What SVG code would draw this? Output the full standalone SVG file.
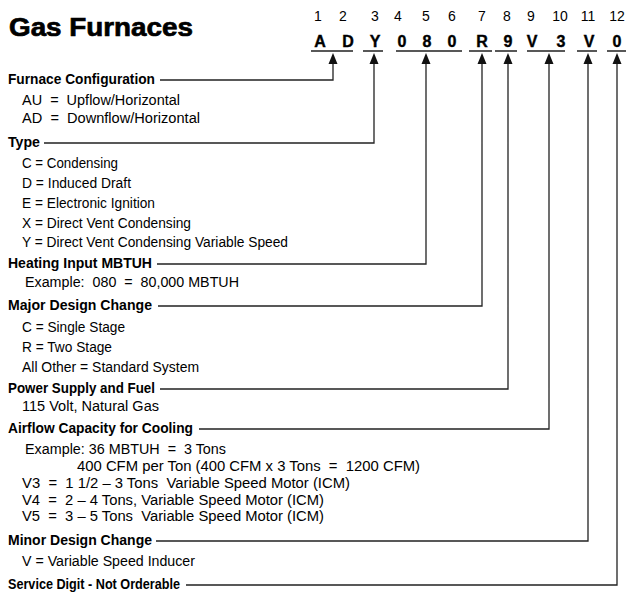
<svg xmlns="http://www.w3.org/2000/svg" width="626" height="595" viewBox="0 0 626 595">
<style>
text{font-family:"Liberation Sans",Arial,sans-serif;fill:#000;white-space:pre}
.t{font-size:26px;font-weight:bold;stroke:#000;stroke-width:0.7}
.h{font-size:15.5px;font-weight:bold}
.i{font-size:14px}
.n{font-size:15.5px}
.d{font-size:14px;text-anchor:middle}
.c{font-size:16px;font-weight:bold;text-anchor:middle;stroke:#000;stroke-width:0.4}
.ln{stroke:#222;stroke-width:1.3;fill:none}
.ah{fill:#111}
</style>
<defs>
<path id="arr" d="M0,0 L4.5,11 L-4.5,11 Z"/>
</defs>
<rect width="626" height="595" fill="#fff"/>
<g id="title"><text class="t" x="9" y="36" textLength="184" lengthAdjust="spacingAndGlyphs">Gas Furnaces</text></g>
<g id="code">
<text class="d" x="318" y="21">1</text><text class="d" x="343" y="21">2</text><text class="d" x="375" y="21">3</text><text class="d" x="398" y="21">4</text><text class="d" x="426" y="21">5</text><text class="d" x="452" y="21">6</text><text class="d" x="482" y="21">7</text><text class="d" x="507" y="21">8</text><text class="d" x="531" y="21">9</text><text class="d" x="560" y="21">10</text><text class="d" x="588" y="21">11</text><text class="d" x="617" y="21">12</text>
<text class="c" x="320" y="47">A</text><text class="c" x="348" y="47">D</text><text class="c" x="375" y="47">Y</text><text class="c" x="402" y="47">0</text><text class="c" x="427" y="47">8</text><text class="c" x="452" y="47">0</text><text class="c" x="482" y="47">R</text><text class="c" x="508" y="47">9</text><text class="c" x="532" y="47">V</text><text class="c" x="561" y="47">3</text><text class="c" x="589" y="47">V</text><text class="c" x="617" y="47">0</text>
<path class="ln" d="M311,51H353M363,51H383M396,51H462M469,51H492M495,51H517M527,51H565M577,51H597M607,51H626"/>
</g>
<g id="connectors">
<path class="ln" d="M160,80H333V62M44,143H374V62M157,264H426V62M158,306H482V62M160,389H508V62M199,429H549V62M156,541H588V62M186,585H617V62"/>
<use href="#arr" x="333" y="53" class="ah"/><use href="#arr" x="374" y="53" class="ah"/><use href="#arr" x="426" y="53" class="ah"/><use href="#arr" x="482" y="53" class="ah"/><use href="#arr" x="508" y="53" class="ah"/><use href="#arr" x="549" y="53" class="ah"/><use href="#arr" x="588" y="53" class="ah"/><use href="#arr" x="617" y="53" class="ah"/>
</g>
<g id="furnace-configuration">
<text class="h" x="8" y="84" textLength="147" lengthAdjust="spacingAndGlyphs">Furnace Configuration</text>
<text class="i" x="22" y="105" textLength="158" lengthAdjust="spacingAndGlyphs">AU  =  Upflow/Horizontal</text>
<text class="i" x="22" y="123" textLength="178" lengthAdjust="spacingAndGlyphs">AD  =  Downflow/Horizontal</text>
</g>
<g id="type">
<text class="h" x="8" y="147" textLength="32" lengthAdjust="spacingAndGlyphs">Type</text>
<text class="n" x="22" y="168" textLength="96" lengthAdjust="spacingAndGlyphs">C = Condensing</text>
<text class="n" x="22" y="188" textLength="109" lengthAdjust="spacingAndGlyphs">D = Induced Draft</text>
<text class="n" x="22" y="208" textLength="133" lengthAdjust="spacingAndGlyphs">E = Electronic Ignition</text>
<text class="n" x="22" y="228" textLength="169" lengthAdjust="spacingAndGlyphs">X = Direct Vent Condensing</text>
<text class="n" x="22" y="247" textLength="266" lengthAdjust="spacingAndGlyphs">Y = Direct Vent Condensing Variable Speed</text>
</g>
<g id="heating-input">
<text class="h" x="8" y="268" textLength="144" lengthAdjust="spacingAndGlyphs">Heating Input MBTUH</text>
<text class="i" x="25" y="287" textLength="214" lengthAdjust="spacingAndGlyphs">Example:  080  =  80,000 MBTUH</text>
</g>
<g id="major-design-change">
<text class="h" x="8" y="310" textLength="144" lengthAdjust="spacingAndGlyphs">Major Design Change</text>
<text class="n" x="22" y="332" textLength="103" lengthAdjust="spacingAndGlyphs">C = Single Stage</text>
<text class="n" x="22" y="352" textLength="90" lengthAdjust="spacingAndGlyphs">R = Two Stage</text>
<text class="n" x="22" y="372" textLength="177" lengthAdjust="spacingAndGlyphs">All Other = Standard System</text>
</g>
<g id="power-supply">
<text class="h" x="8" y="393" textLength="147" lengthAdjust="spacingAndGlyphs">Power Supply and Fuel</text>
<text class="i" x="22" y="411" textLength="137" lengthAdjust="spacingAndGlyphs">115 Volt, Natural Gas</text>
</g>
<g id="airflow-capacity">
<text class="h" x="8" y="433" textLength="185" lengthAdjust="spacingAndGlyphs">Airflow Capacity for Cooling</text>
<text class="i" x="25" y="454" textLength="201" lengthAdjust="spacingAndGlyphs">Example: 36 MBTUH  =  3 Tons</text>
<text class="i" x="77" y="471" textLength="343" lengthAdjust="spacingAndGlyphs">400 CFM per Ton (400 CFM x 3 Tons  =  1200 CFM)</text>
<text class="i" x="22" y="488" textLength="328" lengthAdjust="spacingAndGlyphs">V3  =  1 1/2 – 3 Tons  Variable Speed Motor (ICM)</text>
<text class="i" x="22" y="505" textLength="302" lengthAdjust="spacingAndGlyphs">V4  =  2 – 4 Tons, Variable Speed Motor (ICM)</text>
<text class="i" x="22" y="521" textLength="302" lengthAdjust="spacingAndGlyphs">V5  =  3 – 5 Tons  Variable Speed Motor (ICM)</text>
</g>
<g id="minor-design-change">
<text class="h" x="8" y="545" textLength="144" lengthAdjust="spacingAndGlyphs">Minor Design Change</text>
<text class="n" x="22" y="566" textLength="173" lengthAdjust="spacingAndGlyphs">V = Variable Speed Inducer</text>
</g>
<g id="service-digit">
<text class="h" x="8" y="589" textLength="172" lengthAdjust="spacingAndGlyphs">Service Digit - Not Orderable</text>
</g>
</svg>
